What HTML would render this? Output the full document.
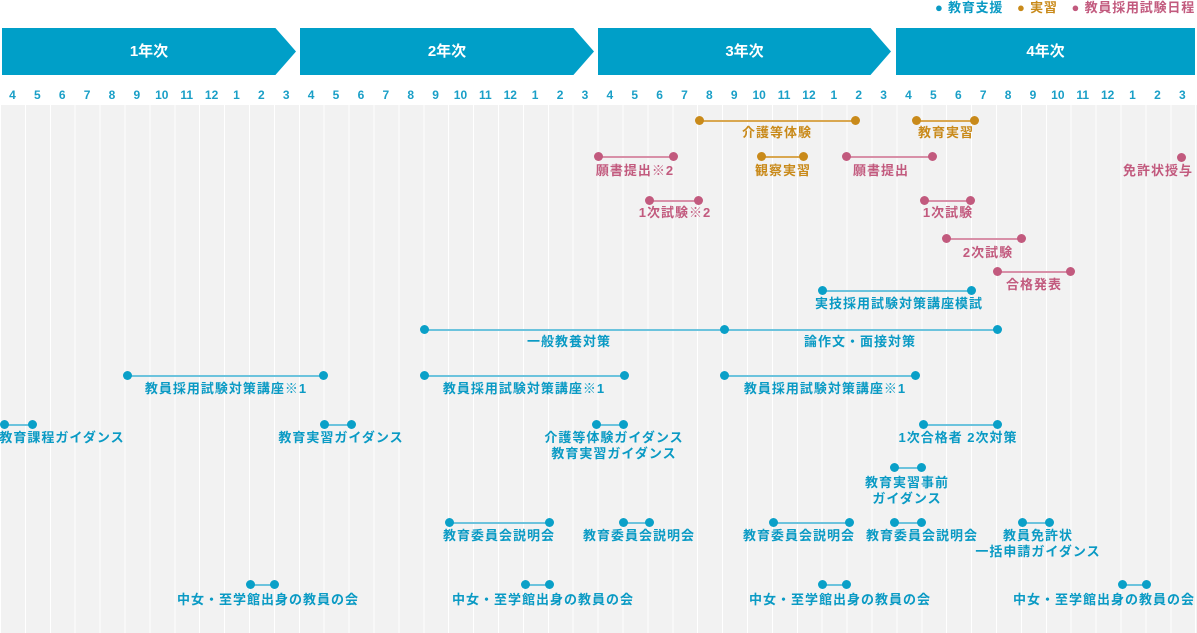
<!DOCTYPE html><html><head><meta charset="utf-8"><style>
*{margin:0;padding:0;box-sizing:border-box}
body{width:1197px;height:633px;position:relative;background:#fff;font-family:"Liberation Sans","Noto Sans CJK JP",sans-serif;font-weight:bold;overflow:hidden}
.grid{position:absolute;left:1px;top:105px;width:1196px;height:528px;background:repeating-linear-gradient(to right,#f2f2f2 0 23.9px,#fff 23.9px 24.9px)}
.bar{position:absolute;top:28px;height:47px;background:#009fc8;color:#fff;font-size:15px;line-height:47px;text-align:center}
.months{position:absolute;top:88px;left:0;width:1197px;display:flex;color:#1a9fc7;font-size:12px}
.months span{width:24.9px;text-align:center}
.l{position:absolute;height:1.5px}
.d{position:absolute;width:9px;height:9px;border-radius:50%}
.t{position:absolute;font-size:13px;letter-spacing:1px;white-space:nowrap;transform:translateX(-50%);text-align:center;line-height:16px}
.b .l,.b .d{background:#0aa0c8}.b .l{background:#6cc3dd}.b.t,.b .t{color:#0a9ac4}
.o .d{background:#c98a1a}.o .l{background:#d9a750}.o .t{color:#c98a1a}
.p .d{background:#c25a7e}.p .l{background:#d890a8}.p .t{color:#c25a7e}
</style></head><body>
<div style="position:absolute;top:0;right:2px;font-size:13px;line-height:15px;letter-spacing:0.8px">
<span style="color:#0a9ac4">● 教育支援</span>　<span style="color:#c98a1a">● 実習</span>　<span style="color:#c25a7e">● 教員採用試験日程</span></div>
<div class="bar" style="left:2px;width:294px;clip-path:polygon(0 0,93% 0,100% 50%,93% 100%,0 100%)">1年次</div>
<div class="bar" style="left:300px;width:294px;clip-path:polygon(0 0,93% 0,100% 50%,93% 100%,0 100%)">2年次</div>
<div class="bar" style="left:598px;width:293px;clip-path:polygon(0 0,93% 0,100% 50%,93% 100%,0 100%)">3年次</div>
<div class="bar" style="left:896px;width:299px">4年次</div>
<div class="months">
<span>4</span><span>5</span><span>6</span><span>7</span><span>8</span><span>9</span><span>10</span><span>11</span><span>12</span><span>1</span><span>2</span><span>3</span>
<span>4</span><span>5</span><span>6</span><span>7</span><span>8</span><span>9</span><span>10</span><span>11</span><span>12</span><span>1</span><span>2</span><span>3</span>
<span>4</span><span>5</span><span>6</span><span>7</span><span>8</span><span>9</span><span>10</span><span>11</span><span>12</span><span>1</span><span>2</span><span>3</span>
<span>4</span><span>5</span><span>6</span><span>7</span><span>8</span><span>9</span><span>10</span><span>11</span><span>12</span><span>1</span><span>2</span><span>3</span>
</div>
<div class="grid"></div>

<div class="o">
<div class="l" style="left:699px;width:156px;top:120px"></div><div class="d" style="left:695px;top:116px"></div><div class="d" style="left:851px;top:116px"></div><div class="t" style="left:777px;top:125px">介護等体験</div>
<div class="l" style="left:916px;width:58px;top:120px"></div><div class="d" style="left:912px;top:116px"></div><div class="d" style="left:970px;top:116px"></div><div class="t" style="left:946px;top:125px">教育実習</div>
<div class="l" style="left:761px;width:42px;top:156px"></div><div class="d" style="left:757px;top:152px"></div><div class="d" style="left:799px;top:152px"></div><div class="t" style="left:783px;top:163px">観察実習</div>
</div>
<div class="p">
<div class="l" style="left:598px;width:75px;top:156px"></div><div class="d" style="left:594px;top:152px"></div><div class="d" style="left:669px;top:152px"></div><div class="t" style="left:635px;top:163px">願書提出※2</div>
<div class="l" style="left:846px;width:86px;top:156px"></div><div class="d" style="left:842px;top:152px"></div><div class="d" style="left:928px;top:152px"></div><div class="t" style="left:881px;top:163px">願書提出</div>
<div class="d" style="left:1177px;top:153px"></div><div class="t" style="left:1158px;top:163px">免許状授与</div>
<div class="l" style="left:649px;width:49px;top:200px"></div><div class="d" style="left:645px;top:196px"></div><div class="d" style="left:694px;top:196px"></div><div class="t" style="left:675px;top:205px">1次試験※2</div>
<div class="l" style="left:924px;width:46px;top:200px"></div><div class="d" style="left:920px;top:196px"></div><div class="d" style="left:966px;top:196px"></div><div class="t" style="left:948px;top:205px">1次試験</div>
<div class="l" style="left:946px;width:75px;top:238px"></div><div class="d" style="left:942px;top:234px"></div><div class="d" style="left:1017px;top:234px"></div><div class="t" style="left:988px;top:245px">2次試験</div>
<div class="l" style="left:997px;width:73px;top:271px"></div><div class="d" style="left:993px;top:267px"></div><div class="d" style="left:1066px;top:267px"></div><div class="t" style="left:1034px;top:277px">合格発表</div>
</div>
<div class="b">
<div class="l" style="left:822px;width:149px;top:290px"></div><div class="d" style="left:818px;top:286px"></div><div class="d" style="left:967px;top:286px"></div><div class="t" style="left:899px;top:296px">実技採用試験対策講座模試</div>
<div class="l" style="left:424px;width:573px;top:329px"></div><div class="d" style="left:420px;top:325px"></div><div class="d" style="left:720px;top:325px"></div><div class="d" style="left:993px;top:325px"></div>
<div class="t" style="left:569px;top:334px">一般教養対策</div><div class="t" style="left:860px;top:334px">論作文・面接対策</div>
<div class="l" style="left:127px;width:196px;top:375px"></div><div class="d" style="left:123px;top:371px"></div><div class="d" style="left:319px;top:371px"></div><div class="t" style="left:226px;top:381px">教員採用試験対策講座※1</div>
<div class="l" style="left:424px;width:200px;top:375px"></div><div class="d" style="left:420px;top:371px"></div><div class="d" style="left:620px;top:371px"></div><div class="t" style="left:524px;top:381px">教員採用試験対策講座※1</div>
<div class="l" style="left:724px;width:191px;top:375px"></div><div class="d" style="left:720px;top:371px"></div><div class="d" style="left:911px;top:371px"></div><div class="t" style="left:825px;top:381px">教員採用試験対策講座※1</div>
<div class="l" style="left:4px;width:28px;top:424px"></div><div class="d" style="left:0px;top:420px"></div><div class="d" style="left:28px;top:420px"></div><div class="t" style="left:62px;top:430px">教育課程ガイダンス</div>
<div class="l" style="left:324px;width:27px;top:424px"></div><div class="d" style="left:320px;top:420px"></div><div class="d" style="left:347px;top:420px"></div><div class="t" style="left:341px;top:430px">教育実習ガイダンス</div>
<div class="l" style="left:596px;width:27px;top:424px"></div><div class="d" style="left:592px;top:420px"></div><div class="d" style="left:619px;top:420px"></div><div class="t" style="left:614px;top:430px">介護等体験ガイダンス<br>教育実習ガイダンス</div>
<div class="l" style="left:923px;width:74px;top:424px"></div><div class="d" style="left:919px;top:420px"></div><div class="d" style="left:993px;top:420px"></div><div class="t" style="left:958px;top:430px">1次合格者 2次対策</div>
<div class="l" style="left:894px;width:27px;top:467px"></div><div class="d" style="left:890px;top:463px"></div><div class="d" style="left:917px;top:463px"></div><div class="t" style="left:907px;top:475px">教育実習事前<br>ガイダンス</div>
<div class="l" style="left:449px;width:100px;top:522px"></div><div class="d" style="left:445px;top:518px"></div><div class="d" style="left:545px;top:518px"></div><div class="t" style="left:499px;top:528px">教育委員会説明会</div>
<div class="l" style="left:623px;width:26px;top:522px"></div><div class="d" style="left:619px;top:518px"></div><div class="d" style="left:645px;top:518px"></div><div class="t" style="left:639px;top:528px">教育委員会説明会</div>
<div class="l" style="left:773px;width:76px;top:522px"></div><div class="d" style="left:769px;top:518px"></div><div class="d" style="left:845px;top:518px"></div><div class="t" style="left:799px;top:528px">教育委員会説明会</div>
<div class="l" style="left:894px;width:27px;top:522px"></div><div class="d" style="left:890px;top:518px"></div><div class="d" style="left:917px;top:518px"></div><div class="t" style="left:922px;top:528px">教育委員会説明会</div>
<div class="l" style="left:1022px;width:27px;top:522px"></div><div class="d" style="left:1018px;top:518px"></div><div class="d" style="left:1045px;top:518px"></div><div class="t" style="left:1038px;top:528px">教員免許状<br>一括申請ガイダンス</div>
<div class="l" style="left:250px;width:24px;top:584px"></div><div class="d" style="left:246px;top:580px"></div><div class="d" style="left:270px;top:580px"></div><div class="t" style="left:268px;top:592px">中女・至学館出身の教員の会</div>
<div class="l" style="left:525px;width:24px;top:584px"></div><div class="d" style="left:521px;top:580px"></div><div class="d" style="left:545px;top:580px"></div><div class="t" style="left:543px;top:592px">中女・至学館出身の教員の会</div>
<div class="l" style="left:822px;width:24px;top:584px"></div><div class="d" style="left:818px;top:580px"></div><div class="d" style="left:842px;top:580px"></div><div class="t" style="left:840px;top:592px">中女・至学館出身の教員の会</div>
<div class="l" style="left:1122px;width:24px;top:584px"></div><div class="d" style="left:1118px;top:580px"></div><div class="d" style="left:1142px;top:580px"></div><div class="t" style="left:1104px;top:592px">中女・至学館出身の教員の会</div>
</div>
</body></html>
